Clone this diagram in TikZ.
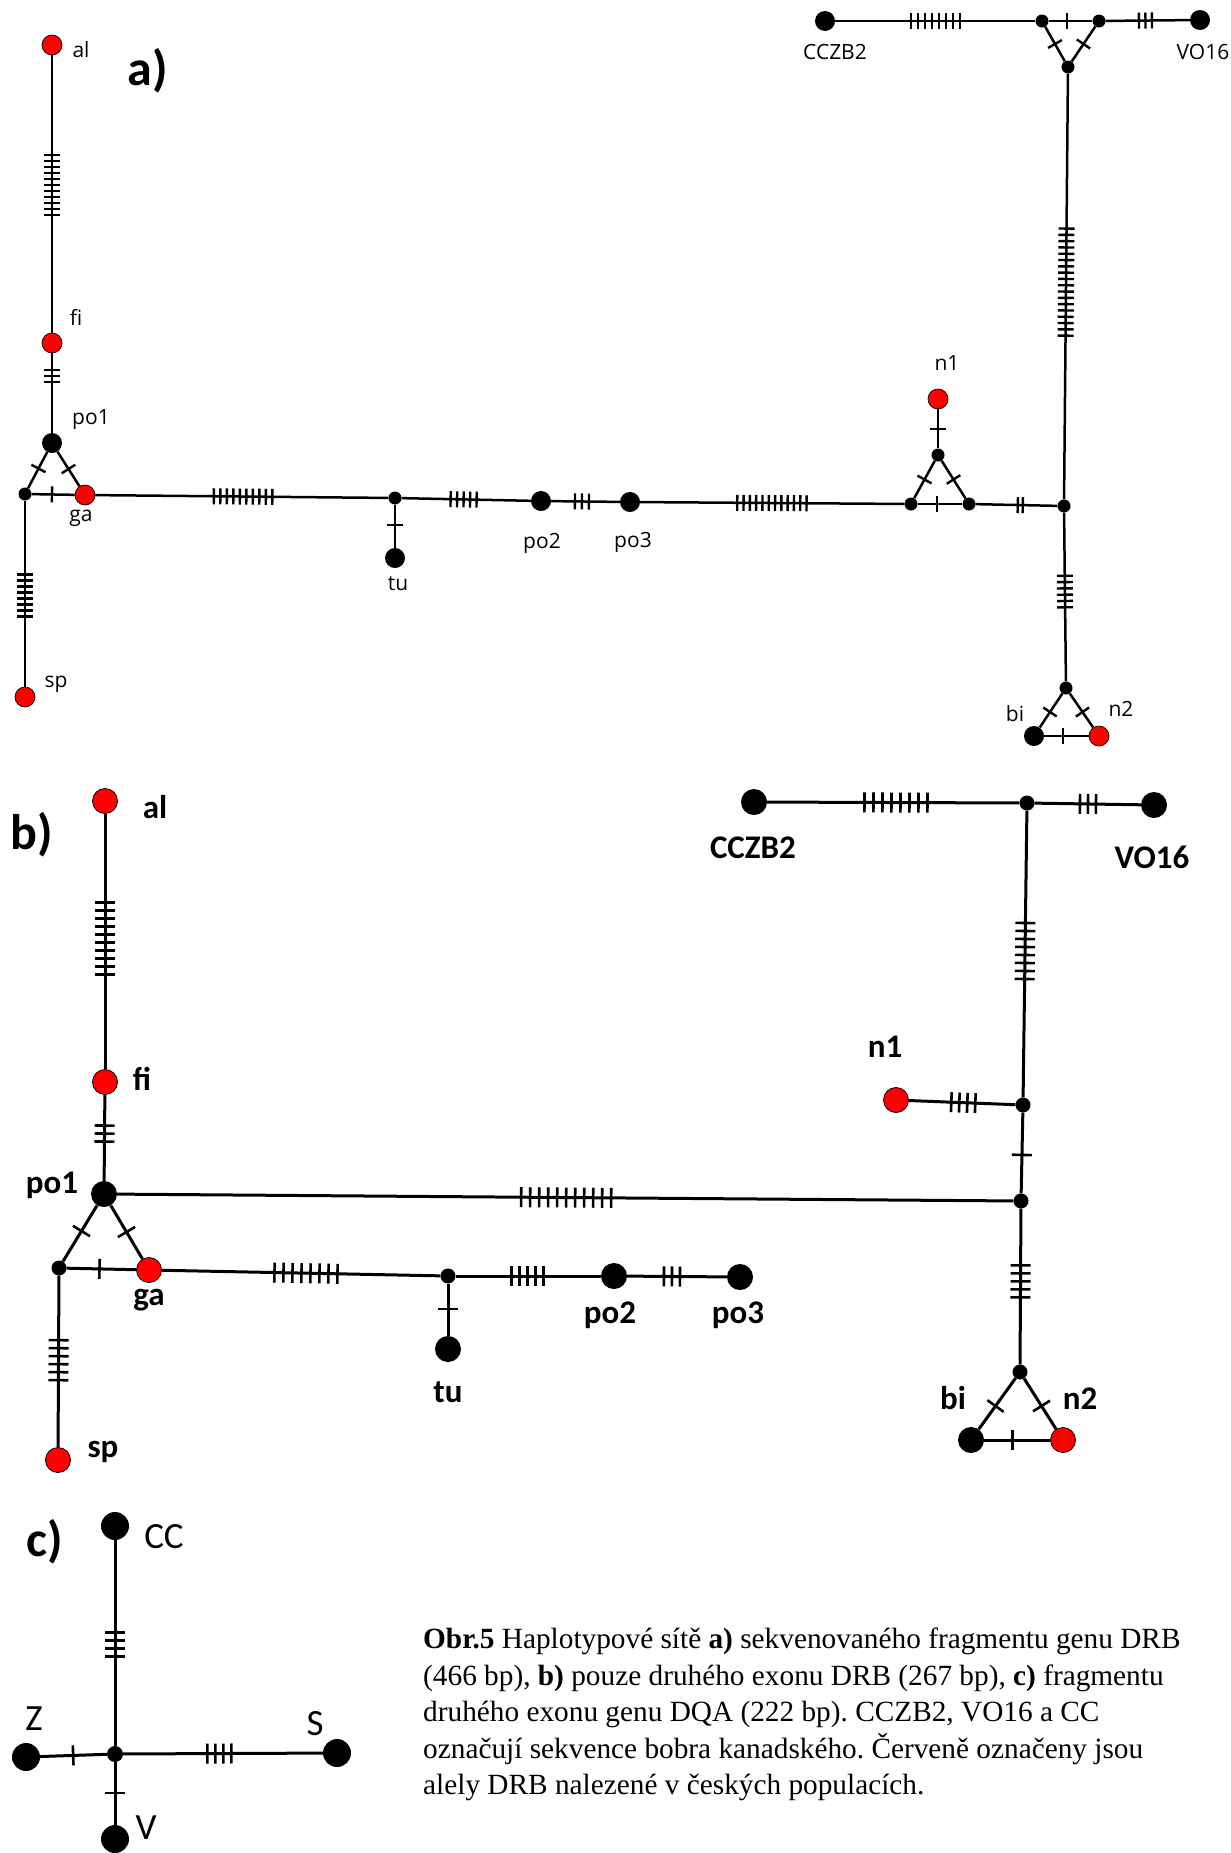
\documentclass[tikz,border=0pt]{standalone}
\usepackage{fontspec}
\setmainfont{Carlito}
\newfontfamily\capfont{Liberation Serif}
\newfontfamily\labfont{Open Sans}
\usetikzlibrary{calc}
\frenchspacing

% n mutation ticks on the edge #1--#2, centred at fraction #3, #4 ticks, spacing #5 (pt)
\def\tkhalf{8pt}
\newcommand\mut[5]{%
  \coordinate (tkc) at ($(#1)!#3!(#2)$);
  \foreach \k in {1,...,#4}{%
    \pgfmathsetmacro\tkoff{(\k-(#4+1)/2)*#5}%
    \coordinate (tkp) at ($(tkc)!\tkoff pt!(#2)$);
    \draw[tick] ($(tkp)!\tkhalf!90:(#2)$) -- ($(tkp)!\tkhalf!-90:(#2)$);
  }}

\begin{document}
\begin{tikzpicture}[x=1pt,y=-1pt,
  hapA/.style={circle,fill=black,inner sep=0pt,minimum size=20pt},
  redA/.style={circle,fill=red,draw=black,line width=0.7pt,inner sep=0pt,minimum size=20pt},
  medA/.style={circle,fill=black,inner sep=0pt,minimum size=13pt},
  hapB/.style={circle,fill=black,inner sep=0pt,minimum size=26pt},
  redB/.style={circle,fill=red,draw=black,line width=0.8pt,inner sep=0pt,minimum size=25pt},
  medB/.style={circle,fill=black,inner sep=0pt,minimum size=15pt},
  hapC/.style={circle,fill=black,inner sep=0pt,minimum size=28pt},
  medC/.style={circle,fill=black,inner sep=0pt,minimum size=16pt},
  edgeA/.style={line width=2.5pt},
  edgeB/.style={line width=3pt},
  tick/.style={line width=2.4pt},
  labA/.style={font=\labfont\fontsize{21}{24}\selectfont,inner sep=0pt},
  labB/.style={font=\fontsize{33}{36}\bfseries\selectfont,inner sep=0pt},
  labC/.style={font=\fontsize{37}{40}\selectfont,inner sep=0pt},
  panel/.style={font=\fontsize{50}{52}\bfseries\selectfont,inner sep=0pt},
]
\useasboundingbox (0,0) rectangle (1231,1853);

% ---------------- a) DRB fragment ----------------
\node[panel] (pa) at (148,71) {a)};
\node[redA] (aal) at (52,45) {};
\node[redA] (afi) at (52,343) {};
\node[hapA] (apo1) at (52,443) {};
\node[medA] (aL) at (25,494) {};
\node[redA] (aga) at (85,495) {};
\node[redA] (asp) at (25,697) {};
\node[medA] (atuj) at (395,498) {};
\node[hapA] (atu) at (395,558) {};
\node[hapA] (apo2) at (541,501) {};
\node[hapA] (apo3) at (630,502) {};
\node[medA] (anL) at (911,504) {};
\node[medA] (anR) at (969,504) {};
\node[medA] (anT) at (938,455) {};
\node[redA] (an1) at (938,399) {};
\node[medA] (arj) at (1064,506) {};
\node[medA] (ayB) at (1068,67) {};
\node[medA] (ayL) at (1042,21) {};
\node[medA] (ayR) at (1099,21) {};
\node[hapA] (acc) at (825,21) {};
\node[hapA] (avo) at (1200,20) {};
\node[medA] (abT) at (1066,688) {};
\node[hapA] (abi) at (1034,736) {};
\node[redA] (an2) at (1099,736) {};

\begin{scope}[every path/.style={edgeA}]
\draw (aal) -- (afi);  \draw (afi) -- (apo1);
\draw (apo1) -- (aL);  \draw (apo1) -- (aga); \draw (aL) -- (aga);
\draw (aL) -- (asp);   \draw (aga) -- (atuj); \draw (atuj) -- (atu);
\draw (atuj) -- (apo2); \draw (apo2) -- (apo3); \draw (apo3) -- (anL);
\draw (anL) -- (anR);  \draw (anL) -- (anT); \draw (anR) -- (anT);
\draw (an1) -- (anT);  \draw (anR) -- (arj);
\draw (arj) -- (ayB);  \draw (ayB) -- (ayL); \draw (ayB) -- (ayR);
\draw (ayL) -- (ayR);  \draw (acc) -- (ayL); \draw (ayR) -- (avo);
\draw (arj) -- (abT);  \draw (abT) -- (abi); \draw (abT) -- (an2); \draw (abi) -- (an2);
\end{scope}

\def\tkhalf{8pt}
\mut{aal}{afi}{0.47}{11}{6}
\mut{afi}{apo1}{0.33}{3}{6}
\mut{apo1}{aL}{0.5}{1}{6}
\mut{apo1}{aga}{0.5}{1}{6}
\mut{aL}{aga}{0.45}{1}{6}
\mut{aL}{asp}{0.5}{8}{6}
\mut{aga}{atuj}{0.51}{10}{6.5}
\mut{atuj}{atu}{0.45}{1}{6}
\mut{atuj}{apo2}{0.47}{5}{6.5}
\mut{apo2}{apo3}{0.46}{3}{7}
\mut{apo3}{anL}{0.505}{12}{6.3}
\mut{anL}{anR}{0.45}{1}{6}
\mut{anT}{anL}{0.5}{1}{6}
\mut{anT}{anR}{0.5}{1}{6}
\mut{an1}{anT}{0.54}{1}{6}
\mut{anR}{arj}{0.54}{2}{5}
\mut{arj}{ayB}{0.51}{18}{6.3}
\mut{arj}{abT}{0.47}{6}{6.3}
\mut{abT}{abi}{0.5}{1}{6}
\mut{abT}{an2}{0.5}{1}{6}
\mut{abi}{an2}{0.45}{1}{6}
\mut{acc}{ayL}{0.51}{8}{7}
\mut{ayL}{ayR}{0.44}{1}{6}
\mut{ayB}{ayL}{0.5}{1}{6}
\mut{ayB}{ayR}{0.5}{1}{6}
\mut{ayR}{avo}{0.46}{3}{6.5}

\node[labA] (lal) at (81,50) {al};
\node[labA] (lfi) at (76,317) {fi};
\node[labA] (lpo1) at (91,420) {po1};
\node[labA] (lga) at (81,518) {ga};
\node[labA] (lsp) at (56,684) {sp};
\node[labA] (ltu) at (398,584) {tu};
\node[labA] (lpo2) at (542,543) {po2};
\node[labA] (lpo3) at (633,542) {po3};
\node[labA] (ln1) at (947,363) {n1};
\node[labA] (lbi) at (1015,714) {bi};
\node[labA] (ln2) at (1121,709) {n2};
\node[labA] (lcc) at (835,52) {CCZB2};
\node[labA] (lvo) at (1203,52) {VO16};

% ---------------- b) DRB exon 2 ----------------
\node[panel] (pb) at (32,835) {b)};
\node[redB] (bal) at (105,801) {};
\node[redB] (bfi) at (105,1082) {};
\node[hapB] (bpo1) at (104,1194) {};
\node[medB] (bL) at (59,1268) {};
\node[redB] (bga) at (149,1270) {};
\node[redB] (bsp) at (58,1460) {};
\node[medB] (btuj) at (448,1276) {};
\node[hapB] (btu) at (448,1349) {};
\node[hapB] (bpo2) at (614,1276) {};
\node[hapB] (bpo3) at (740,1277) {};
\node[medB] (brj) at (1021,1201) {};
\node[medB] (bn1j) at (1023,1105) {};
\node[redB] (bn1) at (896,1100) {};
\node[medB] (btj) at (1027,803) {};
\node[hapB] (bcc) at (754,802) {};
\node[hapB] (bvo) at (1154,805) {};
\node[medB] (bbT) at (1020,1372) {};
\node[hapB] (bbi) at (971,1440) {};
\node[redB] (bn2) at (1063,1440) {};

\begin{scope}[every path/.style={edgeB}]
\draw (bal) -- (bfi);  \draw (bfi) -- (bpo1);
\draw (bpo1) -- (bL);  \draw (bpo1) -- (bga); \draw (bL) -- (bga);
\draw (bL) -- (bsp);   \draw (bga) -- (btuj); \draw (btuj) -- (btu);
\draw (btuj) -- (bpo2); \draw (bpo2) -- (bpo3);
\draw (bpo1) -- (brj); \draw (brj) -- (bn1j); \draw (bn1) -- (bn1j);
\draw (bn1j) -- (btj); \draw (bcc) -- (btj); \draw (btj) -- (bvo);
\draw (brj) -- (bbT);  \draw (bbT) -- (bbi); \draw (bbT) -- (bn2); \draw (bbi) -- (bn2);
\end{scope}

\tikzset{tick/.style={line width=2.6pt}}
\def\tkhalf{10pt}
\mut{bal}{bfi}{0.49}{10}{8}
\mut{bfi}{bpo1}{0.46}{3}{8}
\mut{bpo1}{bL}{0.5}{1}{8}
\mut{bpo1}{bga}{0.5}{1}{8}
\mut{bL}{bga}{0.45}{1}{8}
\mut{bL}{bsp}{0.48}{6}{8}
\mut{bga}{btuj}{0.525}{8}{9}
\mut{btuj}{btu}{0.45}{1}{8}
\mut{btuj}{bpo2}{0.48}{5}{8}
\mut{bpo2}{bpo3}{0.46}{3}{8}
\mut{bpo1}{brj}{0.504}{11}{9}
\mut{brj}{bn1j}{0.48}{1}{8}
\mut{bn1}{bn1j}{0.53}{4}{8}
\mut{btj}{bn1j}{0.49}{8}{8}
\mut{brj}{bbT}{0.47}{5}{8}
\mut{bcc}{btj}{0.52}{8}{9}
\mut{btj}{bvo}{0.48}{3}{8}
\mut{bbT}{bbi}{0.5}{1}{8}
\mut{bbT}{bn2}{0.5}{1}{8}
\mut{bbi}{bn2}{0.45}{1}{8}

\node[labB] (mal) at (155,807) {al};
\node[labB] (mfi) at (142,1079) {fi};
\node[labB] (mpo1) at (52,1185) {po1};
\node[labB] (mga) at (149,1300) {ga};
\node[labB] (msp) at (103,1452) {sp};
\node[labB] (mtu) at (448,1392) {tu};
\node[labB] (mpo2) at (610,1315) {po2};
\node[labB] (mpo3) at (738,1315) {po3};
\node[labB] (mn1) at (885,1047) {n1};
\node[labB] (mcc) at (753,848) {CCZB2};
\node[labB] (mvo) at (1152,857) {VO16};
\node[labB] (mbi) at (953,1398) {bi};
\node[labB] (mn2) at (1080,1399) {n2};

% ---------------- c) DQA exon 2 ----------------
\node[panel] (pc) at (45,1542) {c)};
\node[hapC] (cCC) at (115,1526) {};
\node[medC] (cj) at (115,1754) {};
\node[hapC] (cZ) at (26,1757) {};
\node[hapC] (cS) at (337,1753) {};
\node[hapC] (cV) at (115,1839) {};
\begin{scope}[every path/.style={edgeB}]
\draw (cCC) -- (cj); \draw (cZ) -- (cj); \draw (cj) -- (cS); \draw (cj) -- (cV);
\end{scope}
\mut{cCC}{cj}{0.52}{4}{8}
\mut{cZ}{cj}{0.53}{1}{8}
\mut{cj}{cS}{0.47}{4}{8}
\mut{cj}{cV}{0.46}{1}{8}
\node[labC] (nCC) at (164,1537) {CC};
\node[labC] (nZ) at (34,1719) {Z};
\node[labC] (nS) at (315,1724) {S};
\node[labC] (nV) at (146,1828) {V};

% caption
\node[anchor=north west,inner sep=0pt,align=left,
      font=\capfont\fontsize{29.3}{36.5}\selectfont\frenchspacing] (cap) at (423,1628)
 {\textbf{Obr.5} Haplotypové sítě \textbf{a)} sekvenovaného fragmentu genu DRB\\
  (466 bp), \textbf{b)} pouze druhého exonu DRB (267 bp), \textbf{c)} fragmentu\\
  druhého exonu genu DQA (222 bp).\ CCZB2, VO16 a CC\\
  označují sekvence bobra kanadského. Červeně označeny jsou\\
  alely DRB nalezené v českých populacích.};
\end{tikzpicture}
\end{document}
